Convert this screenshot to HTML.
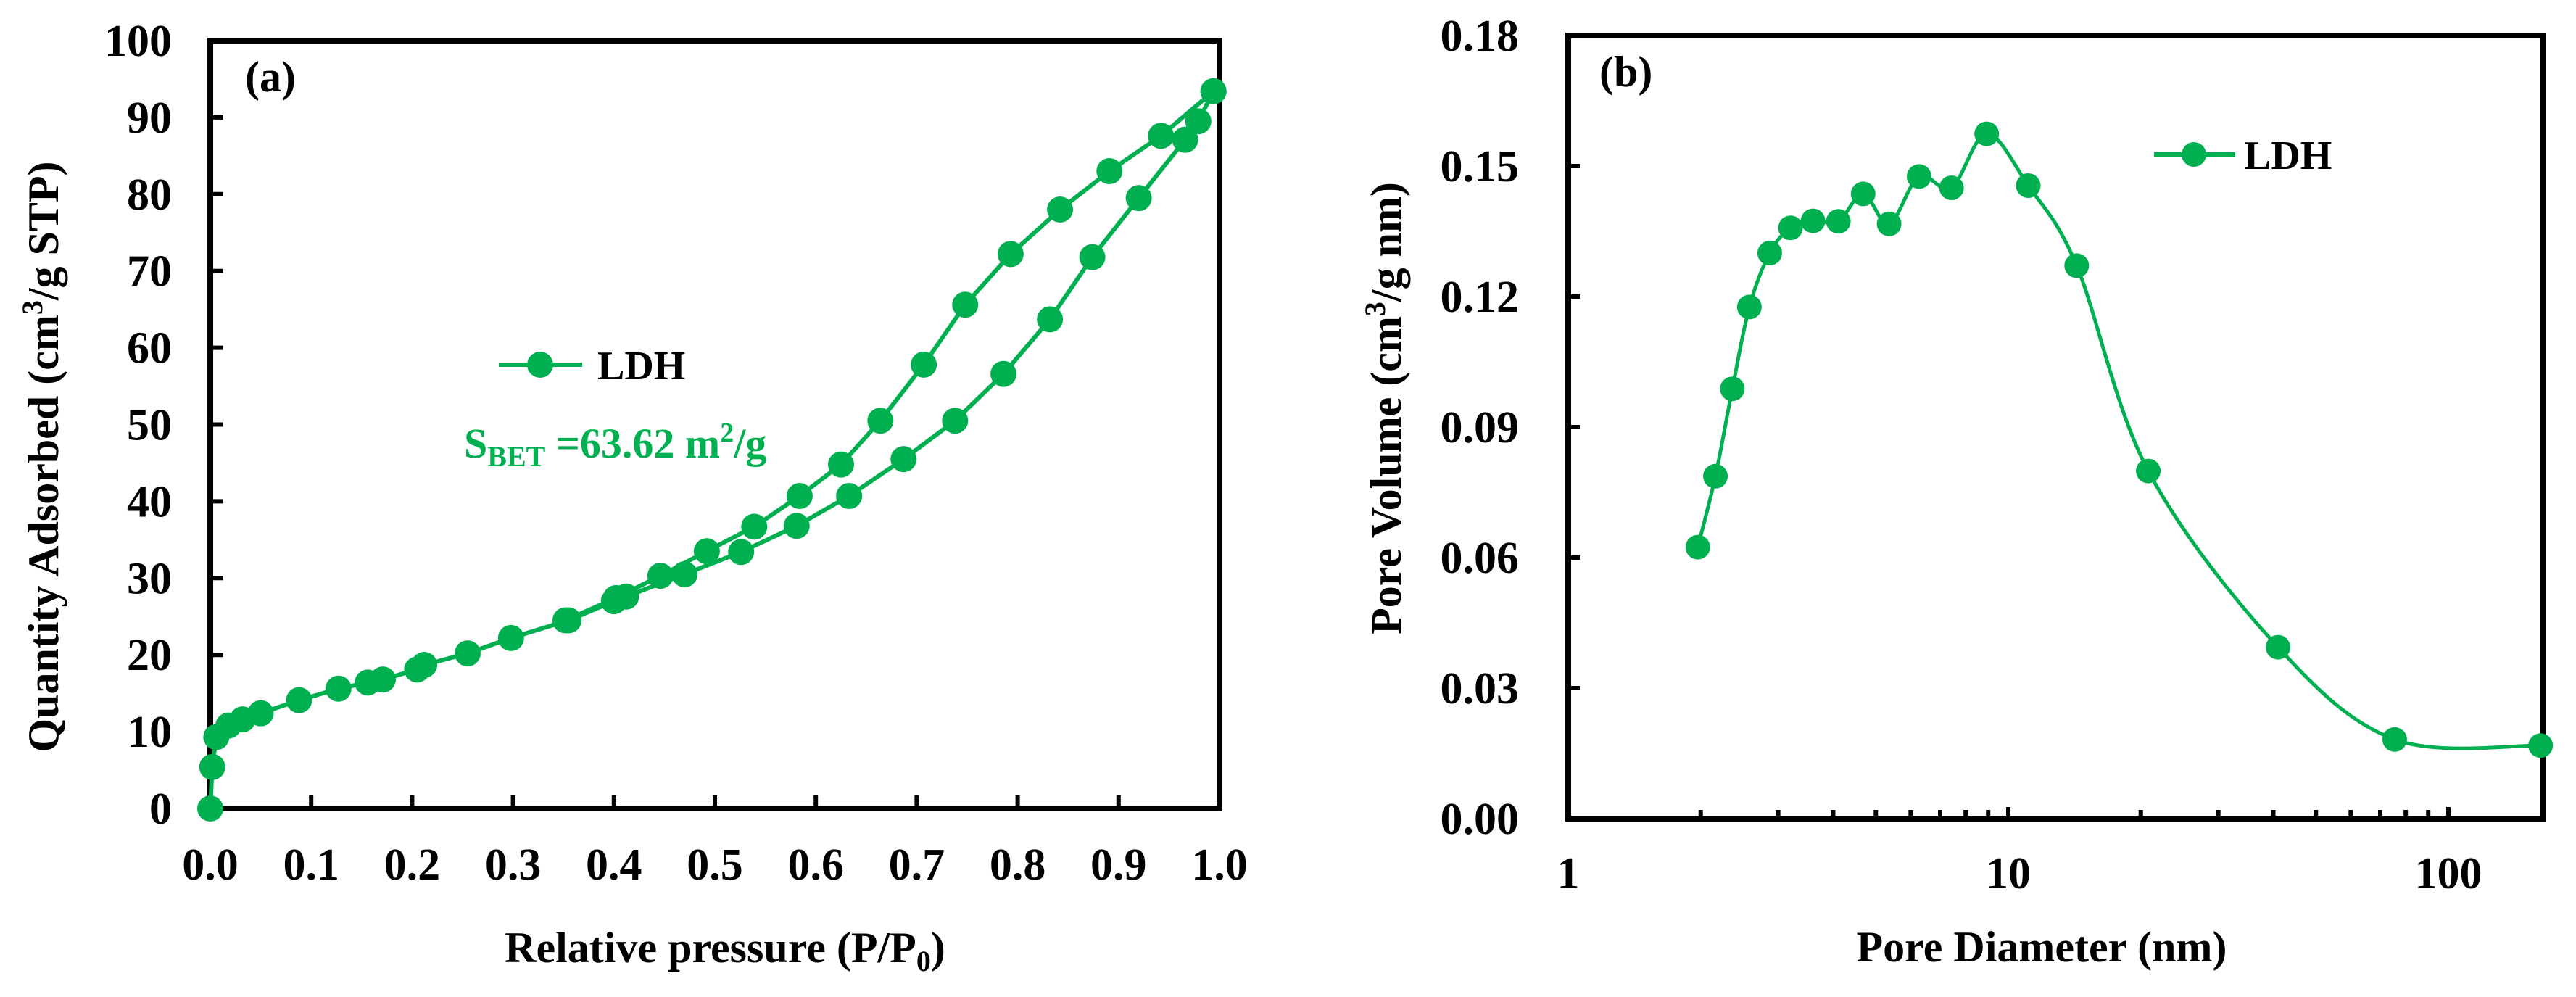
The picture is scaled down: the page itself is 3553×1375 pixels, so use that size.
<!DOCTYPE html>
<html><head><meta charset="utf-8"><style>
html,body{margin:0;padding:0;background:#fff}
svg{display:block}
text{font-family:"Liberation Serif",serif;font-weight:bold;fill:#000}
</style></head><body>
<svg id="fig" width="3553" height="1375" viewBox="0 0 3553 1375">
<g id="pa"></g>
<g id="pb"></g>
</svg>
<script>
// Panel (a) data
const adsP = [0,0.002,0.006,0.018,0.032,0.05,0.088,0.127,0.156,0.171,0.205,0.212,0.255,0.298,0.355,0.40,0.412,0.47,0.526,0.581,0.633,0.687,0.738,0.786,0.832,0.874,0.92,0.966,0.979,0.994];
const adsQ = [0,5.4,9.3,10.8,11.6,12.4,14.1,15.6,16.4,16.8,18.1,18.7,20.2,22.2,24.5,27,27.6,30.5,33.4,36.8,40.7,45.5,50.5,56.6,63.7,71.8,79.5,87.1,89.5,93.4];
const desP = [0.994,0.942,0.891,0.842,0.793,0.748,0.707,0.664,0.625,0.584,0.539,0.492,0.446,0.402,0.352];
const desQ = [93.4,87.6,83,78,72.2,65.6,57.8,50.5,44.8,40.7,36.7,33.5,30.3,27.4,24.5];
const aXTicks = ["0.0","0.1","0.2","0.3","0.4","0.5","0.6","0.7","0.8","0.9","1.0"];
const aYTicks = ["0","10","20","30","40","50","60","70","80","90","100"];
// Panel (b) data
const poreD = [1.97,2.16,2.36,2.58,2.87,3.20,3.60,4.11,4.68,5.36,6.27,7.43,8.93,11.1,14.3,20.8,41.0,75.5,162];
const poreV = [0.0624,0.0787,0.0988,0.1176,0.130,0.1358,0.1374,0.1373,0.1436,0.1367,0.1476,0.145,0.1574,0.1455,0.1271,0.0799,0.0394,0.0182,0.0168];
const bXTicks = ["1","10","100"];
const bYTicks = ["0.00","0.03","0.06","0.09","0.12","0.15","0.18"];

const NS="http://www.w3.org/2000/svg";
const G="#00B050";
function mk(parent,tag,attrs,txt){const e=document.createElementNS(NS,tag);for(const k in attrs)e.setAttribute(k,attrs[k]);if(txt!==undefined)e.textContent=txt;parent.appendChild(e);return e;}

// ---- Panel A ----
const pa=document.getElementById('pa');
const aL=290,aR=1682,aT=56,aB=1115;
const ax=v=>aL+v*(aR-aL);
const ay=v=>aB-v/100*(aB-aT);
aYTicks.forEach((t,i)=>{const v=i*10;const y=ay(v);
  if(i>0&&i<10){const tk=mk(pa,'line',{x1:aL,x2:aL+18,y1:y,y2:y,stroke:'#000','stroke-width':6});
  }
  const lb=mk(pa,'text',{x:237,y:y+21,'text-anchor':'end','font-size':62},t);
  });
aXTicks.forEach((t,i)=>{const v=i/10;const x=ax(v);
  if(i>0&&i<10){const tk=mk(pa,'line',{x1:x,x2:x,y1:aB,y2:aB-18,stroke:'#000','stroke-width':6});
  }
  const lb=mk(pa,'text',{x:x,y:1213,'text-anchor':'middle','font-size':62},t);
  });
const fa=mk(pa,'rect',{x:aL,y:aT,width:aR-aL,height:aB-aT,fill:'none',stroke:'#000','stroke-width':8});

function polyA(P,Q,name){
  const pts=P.map((p,i)=>ax(p).toFixed(1)+','+ay(Q[i]).toFixed(1)).join(' ');
  const pl=mk(pa,'polyline',{points:pts,fill:'none',stroke:G,'stroke-width':6});
  
  P.forEach((p,i)=>{const c=mk(pa,'circle',{cx:ax(p),cy:ay(Q[i]),r:18,fill:G});
    });
}
polyA(adsP,adsQ,'adsorption');
polyA(desP,desQ,'desorption');
let e;
e=mk(pa,'text',{x:338,y:126,'font-size':60},'(a)');

e=mk(pa,'line',{x1:688,x2:803,y1:503,y2:503,stroke:G,'stroke-width':6});

e=mk(pa,'circle',{cx:745,cy:503,r:18,fill:G});

e=mk(pa,'text',{x:824,y:523,'font-size':56},'LDH');

e=mk(pa,'text',{x:640,y:631,'font-size':58,fill:G,style:'fill:'+G});

e.innerHTML='S<tspan font-size="40" dy="12">BET</tspan><tspan dy="-12"> =63.62 m</tspan><tspan font-size="38" dy="-22">2</tspan><tspan dy="22">/g</tspan>';
e=mk(pa,'text',{x:1000,y:1327,'text-anchor':'middle','font-size':60});

e.innerHTML='Relative pressure  (P/P<tspan font-size="40" dy="12">0</tspan><tspan dy="-12">)</tspan>';
e=mk(pa,'text',{x:0,y:0,'text-anchor':'middle','font-size':60,transform:'translate(80,630) rotate(-90)'});

e.innerHTML='Quantity  Adsorbed (cm<tspan font-size="40" dy="-22">3</tspan><tspan dy="22">/g STP)</tspan>';

// ---- Panel B ----
const pb=document.getElementById('pb');
const bL=2163,bR=3508,bT=49,bB=1129,dec=607;
const bx=d=>bL+Math.log10(d)*dec;
const by=v=>bB-v/0.18*(bB-bT);
bYTicks.forEach((t,i)=>{const v=i*0.03;const y=by(v);
  if(i>0&&i<6){const tk=mk(pb,'line',{x1:bL,x2:bL+16,y1:y,y2:y,stroke:'#000','stroke-width':6});
  }
  const lb=mk(pb,'text',{x:2095,y:y+21,'text-anchor':'end','font-size':62},t);
  });
for(let d=1;d<=100;d*=10){for(let m=1;m<=9;m++){const v=d*m;const x=bx(v);if(x<=bL+2||x>=bR-2)continue;
  const tk=mk(pb,'line',{x1:x,x2:x,y1:bB,y2:bB-(m===1?16:12),stroke:'#000','stroke-width':6});
  }}
bXTicks.forEach((t,i)=>{const x=bx(Math.pow(10,i));
  const lb=mk(pb,'text',{x:x,y:1225,'text-anchor':'middle','font-size':62},t);
  });
const fb=mk(pb,'rect',{x:bL,y:bT,width:bR-bL,height:bB-bT,fill:'none',stroke:'#000','stroke-width':8});

const P=poreD.map((d,i)=>[bx(d),by(poreV[i])]);
let dstr='M'+P[0][0]+','+P[0][1];
for(let i=0;i<P.length-1;i++){const p0=P[Math.max(0,i-1)],p1=P[i],p2=P[i+1],p3=P[Math.min(P.length-1,i+2)];
  const c1=[p1[0]+(p2[0]-p0[0])/6,p1[1]+(p2[1]-p0[1])/6],c2=[p2[0]-(p3[0]-p1[0])/6,p2[1]-(p3[1]-p1[1])/6];
  dstr+=' C'+c1[0].toFixed(1)+','+c1[1].toFixed(1)+' '+c2[0].toFixed(1)+','+c2[1].toFixed(1)+' '+p2[0].toFixed(1)+','+p2[1].toFixed(1);}
e=mk(pb,'path',{d:dstr,fill:'none',stroke:G,'stroke-width':5});

P.forEach(p=>{const c=mk(pb,'circle',{cx:p[0],cy:p[1],r:17,fill:G});
  });
e=mk(pb,'text',{x:2206,y:119,'font-size':60},'(b)');

e=mk(pb,'line',{x1:2971,x2:3083,y1:213,y2:213,stroke:G,'stroke-width':6});

e=mk(pb,'circle',{cx:3026,cy:213,r:17,fill:G});

e=mk(pb,'text',{x:3095,y:233,'font-size':56},'LDH');

e=mk(pb,'text',{x:2816,y:1326,'text-anchor':'middle','font-size':60},'Pore Diameter (nm)');

e=mk(pb,'text',{x:0,y:0,'text-anchor':'middle','font-size':60,transform:'translate(1932,563) rotate(-90)'});

e.innerHTML='Pore Volume (cm<tspan font-size="40" dy="-22">3</tspan><tspan dy="22">/g nm)</tspan>';
</script>
</body></html>
